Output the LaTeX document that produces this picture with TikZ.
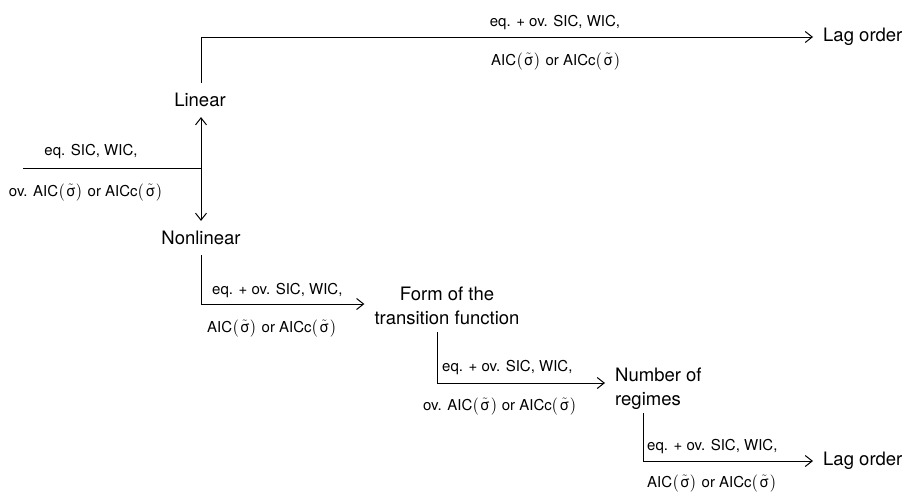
\documentclass[tikz,border=0pt]{standalone}
\usepackage{amsmath}
\usepackage{fontspec}
\setmainfont{TeX Gyre Heros}
\usepackage{tikz}
\usetikzlibrary{positioning,arrows.meta}
\tikzset{
  stage/.style={font=\fontsize{18.5}{24}\selectfont, inner sep=10pt},
  crit/.style={font=\fontsize{15}{18}\selectfont, inner sep=0pt, anchor=base},
  line/.style={line width=1pt},
  flow/.style={line width=1pt, -{Straight Barb[length=7pt,width=11pt]}},
}
\newcommand{\sig}{$\bigl(\mkern1.5mu\tilde{\text{σ}}\mkern1.5mu\bigr)$}

\begin{document}
\begin{tikzpicture}[x=1pt,y=-1pt]
\useasboundingbox (0,0) rectangle (904,491);
% stages of the selection
\node[stage] (linear) at (200,100) {Linear};
\node[stage] (nonlinear) at (201,238) {Nonlinear};
\node[stage, align=center] (form) at (447,306) {Form of the\\transition function};
\node[stage, align=left, anchor=west] (regimes) at (605,389) {Number of\\regimes};
\node[stage, anchor=west] (lagtop) at (813,37) {Lag order};
\node[stage, anchor=west] (lagbot) at (813,461) {Lag order};
\coordinate (start) at (23,168);
\coordinate (split) at (201,168);
% connectors
\draw[line] (start) -- (split);
\draw[flow] (split) -- (split |- linear.south);
\draw[flow] (split) -- (split |- nonlinear.north);
\draw[flow] (split |- linear.north) |- (lagtop.west);
\draw[flow] (nonlinear.south) |- ([yshift=2pt]form.west);
\draw[flow] ([xshift=-10pt,yshift=3pt]form.south) |- ([yshift=6pt]regimes.west);
\draw[flow] ([xshift=38pt,yshift=7pt]regimes.south west) |- (lagbot.west);
% criteria
\node[crit] (c0a) at (91,155) {eq. SIC, WIC,};
\node[crit] (c0b) at (86,196) {ov. AIC\sig{} or AICc\sig};
\node[crit] (c1a) at (555,26) {eq. + ov. SIC, WIC,};
\node[crit] (c1b) at (556,65) {AIC\sig{} or AICc\sig};
\node[crit, anchor=base west] (c2a) at (212,294) {eq. + ov. SIC, WIC,};
\node[crit, anchor=base west] (c2b) at (207,332) {AIC\sig{} or AICc\sig};
\node[crit, anchor=base west] (c3a) at (442,371) {eq. + ov. SIC, WIC,};
\node[crit, anchor=base west] (c3b) at (423,410) {ov. AIC\sig{} or AICc\sig};
\node[crit, anchor=base west] (c4a) at (647,450) {eq. + ov. SIC, WIC,};
\node[crit, anchor=base west] (c4b) at (647,487) {AIC\sig{} or AICc\sig};
\end{tikzpicture}
\end{document}
